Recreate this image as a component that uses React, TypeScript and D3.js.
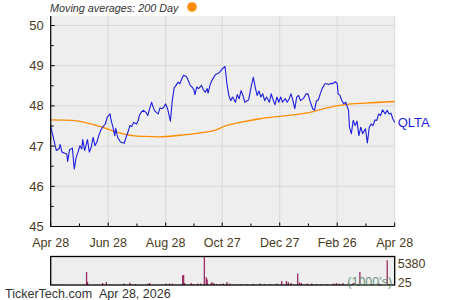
import React from "react";
import * as d3 from "d3";

// ---- data ----
const startDate = new Date(2025, 3, 28);
const endDate = new Date(2026, 3, 28);

const priceDays = [0, 6, 9, 10, 12, 15, 17, 18, 20, 23, 25, 27, 29, 31, 33, 34, 36, 39, 41, 43, 45, 47, 49, 51, 53, 55, 58, 60, 63, 64, 66, 68, 69, 71, 74, 78, 80, 82, 84, 86, 88, 91, 93, 94, 96, 98, 101, 103, 105, 107, 110, 112, 114, 116, 118, 120, 122, 124, 127, 129, 131, 133, 135, 137, 139, 141, 144, 146, 148, 150, 152, 153, 155, 157, 160, 162, 164, 166, 167, 169, 171, 173, 175, 178, 180, 182, 185, 187, 189, 191, 193, 196, 198, 200, 202, 204, 206, 208, 210, 213, 215, 217, 219, 221, 223, 225, 227, 229, 232, 234, 236, 238, 240, 242, 244, 246, 249, 251, 253, 255, 257, 259, 261, 263, 265, 268, 270, 271, 273, 275, 278, 280, 282, 284, 286, 288, 291, 293, 295, 297, 299, 302, 304, 305, 307, 309, 311, 313, 316, 317, 319, 321, 323, 325, 327, 329, 331, 334, 336, 338, 340, 342, 344, 346, 348, 350, 352, 355, 357, 359, 361, 363, 365];
const priceValues = [47.49, 46.89, 46.94, 47.04, 46.85, 46.82, 46.81, 46.62, 46.91, 46.95, 46.43, 46.72, 46.85, 47.01, 46.93, 47.16, 46.89, 47.16, 46.85, 46.97, 47.22, 47.01, 47.1, 47.26, 47.39, 47.47, 47.55, 47.72, 47.8, 47.65, 47.47, 47.26, 47.44, 47.22, 47.1, 47.07, 47.22, 47.35, 47.51, 47.49, 47.59, 47.55, 47.64, 47.76, 47.84, 47.89, 47.84, 47.76, 47.93, 48.09, 47.89, 47.84, 47.8, 47.95, 47.93, 47.97, 48.05, 47.93, 47.62, 48.13, 48.45, 48.51, 48.59, 48.55, 48.67, 48.76, 48.73, 48.63, 48.51, 48.47, 48.4, 48.28, 48.47, 48.43, 48.51, 48.4, 48.34, 48.43, 48.32, 48.51, 48.63, 48.71, 48.78, 48.81, 48.86, 48.92, 48.98, 48.55, 48.26, 48.13, 48.22, 48.09, 48.28, 48.18, 48.38, 48.26, 48.09, 48.12, 48.15, 48.51, 48.71, 48.47, 48.26, 48.37, 48.22, 48.3, 48.13, 48.22, 48.09, 48.3, 48.15, 48.03, 48.22, 48.09, 48.22, 48.09, 48.18, 48.09, 48.18, 48.3, 48.13, 47.93, 48.22, 48.26, 48.13, 48.18, 48.26, 48.3, 48.3, 48.13, 47.93, 47.9, 48.13, 48.15, 48.3, 48.43, 48.55, 48.55, 48.53, 48.56, 48.55, 48.6, 48.56, 48.3, 48.26, 48.13, 48.05, 48.09, 47.89, 47.47, 47.31, 47.64, 47.51, 47.62, 47.26, 47.47, 47.31, 47.43, 47.08, 47.47, 47.55, 47.51, 47.65, 47.64, 47.8, 47.76, 47.9, 47.8, 47.89, 47.8, 47.82, 47.68, 47.59];

const maDays = [0, 23, 52, 70, 87, 100, 116, 137, 159, 174, 185, 201, 222, 243, 275, 291, 312, 334, 365];
const maValues = [47.65, 47.64, 47.49, 47.35, 47.26, 47.24, 47.23, 47.27, 47.33, 47.39, 47.5, 47.59, 47.68, 47.74, 47.84, 47.94, 48.03, 48.07, 48.11];

const volDays = [2, 7, 10, 38, 39, 55, 59, 78, 84, 90, 103, 105, 122, 126, 129, 140, 141, 142, 149, 151, 156, 159, 163, 165, 166, 170, 171, 173, 176, 180, 183, 187, 190, 201, 208, 215, 222, 227, 233, 240, 245, 250, 252, 255, 262, 264, 266, 272, 277, 282, 287, 293, 300, 303, 306, 310, 316, 321, 323, 328, 340, 348, 357, 360];
const volValues = [60, 40, 40, 2500, 630, 380, 570, 280, 440, 190, 250, 380, 280, 280, 250, 1900, 1900, 380, 380, 190, 280, 280, 5380, 1520, 1080, 280, 570, 380, 190, 190, 280, 570, 280, 190, 190, 190, 280, 190, 190, 280, 760, 760, 570, 400, 2200, 510, 380, 280, 280, 190, 190, 190, 280, 380, 280, 380, 380, 380, 380, 2500, 190, 280, 4750, 190];

const yTicks = [45, 46, 47, 48, 49, 50];
const xTickLabels = ["Apr 28", "Jun 28", "Aug 28", "Oct 27", "Dec 27", "Feb 26", "Apr 28"];
const xTickDates = [
  new Date(2025, 3, 28), new Date(2025, 5, 28), new Date(2025, 7, 28), new Date(2025, 9, 27),
  new Date(2025, 11, 27), new Date(2026, 1, 26), new Date(2026, 3, 28),
];
const tickerName = "QLTA";
const titleText = "Moving averages: 200 Day";
const footerText = "TickerTech.com\u00a0\u00a0Apr 28, 2026";
const volMaxLabel = "5380";
const volMinLabel = "25";
const volUnitLabel = "(1000's)";

// ---- layout ----
const W = 450, H = 300;
const L = 50.7, R = 394.7, T = 16, B = 226.5;
const VT = 256.5, VB = 285;
const FONT = "'Liberation Sans', Arial, sans-serif";
const TXT = "#4a3b1c";

export default function App() {
  const x = d3.scaleTime().domain([startDate, endDate]).range([L, R]);
  const y = d3.scaleLinear().domain([45, 50.15]).range([B, B - 5.15 * 40.2]);
  const yv = d3.scaleLinear().domain([0, 5380]).range([VB, VT + 0.5]);
  const dayToDate = (d: number) => d3.timeDay.offset(startDate, d);

  const price = priceDays.map((d, i) => [x(dayToDate(d)), y(priceValues[i])] as [number, number]);
  const ma = maDays.map((d, i) => [x(dayToDate(d)), y(maValues[i])] as [number, number]);
  const line = d3.line();
  const maLine = d3.line().curve(d3.curveMonotoneX);

  const minorX: number[] = [];
  for (let i = 0; i < xTickDates.length - 1; i++) {
    minorX.push((x(xTickDates[i]) + x(xTickDates[i + 1])) / 2);
  }
  const minorY = yTicks.slice(0, -1).map((v) => v + 0.5);

  return (
    <svg width={W} height={H} style={{ position: "absolute", left: 0, top: 0, background: "#fff" }} fontFamily={FONT}>
      {/* title */}
      <text x={50} y={12} fontSize={10.8} fontStyle="italic" fill="#333">{titleText}</text>
      <circle cx={192} cy={7} r={4.8} fill="#ff8c00" />

      {/* plot background */}
      <rect x={L} y={T} width={R - L} height={B - T} fill="#eeeeee" />
      {yTicks.map((v) => (
        <line key={"gy" + v} x1={L} x2={R} y1={y(v)} y2={y(v)} stroke="#d8d8d8" strokeWidth={1} />
      ))}
      {xTickDates.map((d, i) => (
        <line key={"gx" + i} x1={x(d)} x2={x(d)} y1={T} y2={B} stroke="#d8d8d8" strokeWidth={1} />
      ))}

      {/* MA line */}
      <path d={maLine(ma) || ""} fill="none" stroke="#ff8c00" strokeWidth={1.3} />
      {/* price line */}
      <path d={line(price) || ""} fill="none" stroke="#1c1ce0" strokeWidth={1.1} strokeLinejoin="round" />

      {/* axes */}
      <line x1={L} x2={L} y1={T} y2={B} stroke="#000" strokeWidth={1.2} />
      <line x1={L} x2={R} y1={B} y2={B} stroke="#000" strokeWidth={1.2} />
      {yTicks.map((v) => (
        <g key={"ty" + v}>
          <line x1={L} x2={L + 4} y1={y(v)} y2={y(v)} stroke="#000" />
          <text x={L - 7} y={y(v) + 4.5} fontSize={13} textAnchor="end" fill={TXT}>{v}</text>
        </g>
      ))}
      {minorY.map((v) => (
        <line key={"my" + v} x1={L} x2={L + 3} y1={y(v)} y2={y(v)} stroke="#000" />
      ))}
      {xTickDates.map((d, i) => (
        <g key={"tx" + i}>
          <line x1={x(d)} x2={x(d)} y1={B} y2={B - 4} stroke="#000" />
          <text x={x(d)} y={B + 20} fontSize={12.5} textAnchor="middle" fill={TXT}>{xTickLabels[i]}</text>
        </g>
      ))}
      {minorX.map((mx, i) => (
        <line key={"mx" + i} x1={mx} x2={mx} y1={B} y2={B - 3} stroke="#000" />
      ))}
      <text x={R + 3} y={y(47.59) + 4.5} fontSize={13} fill="#1c1ce0">{tickerName}</text>

      {/* volume panel */}
      <rect x={L} y={VT} width={R - L} height={VB - VT} fill="#eeeeee" />
      {volDays.map((d, i) => (
        <rect key={"v" + i} x={x(dayToDate(d)) - 0.6} y={yv(volValues[i])} width={1.3} height={VB - yv(volValues[i])} fill="#9b2d62" />
      ))}
      <rect x={L} y={VT} width={R - L} height={VB - VT} fill="none" stroke="#000" strokeWidth={1.3} />
      <text x={R - 25} y={VB + 1} fontSize={12.5} textAnchor="middle" fill="#5f8f72" opacity={0.9}>{volUnitLabel}</text>
      <text x={R + 3} y={VT + 11} fontSize={12.5} fill={TXT}>{volMaxLabel}</text>
      <text x={R + 3} y={VB + 2} fontSize={12.5} fill={TXT}>{volMinLabel}</text>

      {/* footer */}
      <text x={5} y={298} fontSize={12.5} fill="#333">{footerText}</text>
    </svg>
  );
}
